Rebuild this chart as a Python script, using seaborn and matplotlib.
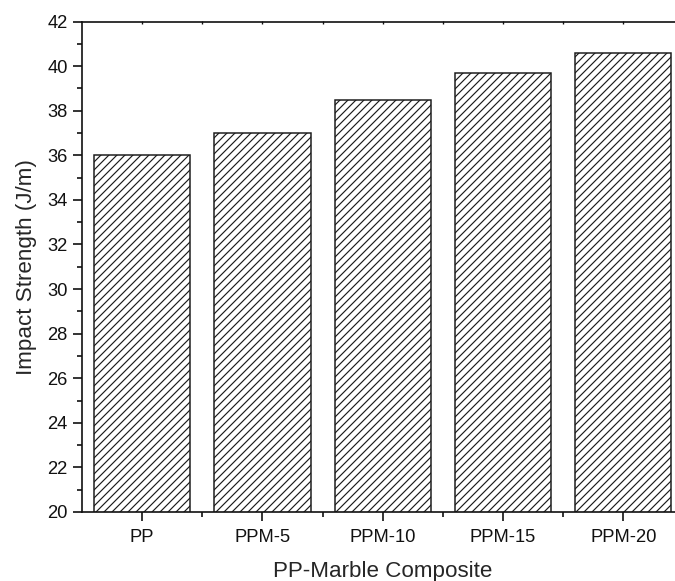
import matplotlib
matplotlib.use("Agg")
import matplotlib.pyplot as plt
from matplotlib.ticker import MultipleLocator, FixedLocator, NullFormatter
import seaborn as sns
import pandas as pd

categories = ["PP", "PPM-5", "PPM-10", "PPM-15", "PPM-20"]
impact_strength = [36.0, 37.0, 38.5, 39.7, 40.6]

sns.set_theme(style="ticks")
plt.rcParams["font.family"] = ["Liberation Sans", "DejaVu Sans"]
plt.rcParams["hatch.linewidth"] = 0.7
plt.rcParams["hatch.color"] = "#222222"

DPI = 120
fig = plt.figure(figsize=(675 / DPI, 581 / DPI), dpi=DPI)
ax = fig.add_axes([82 / 675, 69 / 581, 601.5 / 675, (512 - 21.5) / 581])

df = pd.DataFrame({"sample": categories, "strength": impact_strength})
sns.barplot(data=df, x="sample", y="strength", color="white",
            edgecolor="#1a1a1a", linewidth=0.9, width=0.8, ax=ax,
            saturation=1)
for p in ax.patches:
    p.set_hatch("/////")
    p.set_facecolor("white")

ax.set_ylim(20, 42)
ax.set_xlim(-0.5, 4.5)
ax.yaxis.set_major_locator(MultipleLocator(2))
ax.yaxis.set_minor_locator(MultipleLocator(1))
ax.xaxis.set_minor_locator(FixedLocator([0.5, 1.5, 2.5, 3.5]))

for s in ax.spines.values():
    s.set_linewidth(1.0)
    s.set_color("#111111")

ax.tick_params(axis="both", which="major", direction="out", length=5.4,
               width=1.0, labelsize=11, pad=3.2, colors="#111111")
ax.tick_params(axis="both", which="minor", direction="out", length=3.0,
               width=1.0, colors="#111111")
ax.tick_params(axis="x", which="major", pad=4.5)

# small inward ticks along the top frame
top = ax.secondary_xaxis("top")
top.xaxis.set_major_locator(FixedLocator(range(len(categories))))
top.xaxis.set_minor_locator(FixedLocator([0.5, 1.5, 2.5, 3.5]))
top.xaxis.set_major_formatter(NullFormatter())
top.tick_params(which="both", direction="in", length=1.5, width=0.8,
                colors="#111111")
top.spines["top"].set_visible(False)

ax.set_xlabel("PP-Marble Composite", fontsize=13.4, labelpad=9)
ax.set_ylabel("Impact Strength (J/m)", fontsize=13.4, labelpad=6)

fig.savefig("out.png", dpi=DPI)
